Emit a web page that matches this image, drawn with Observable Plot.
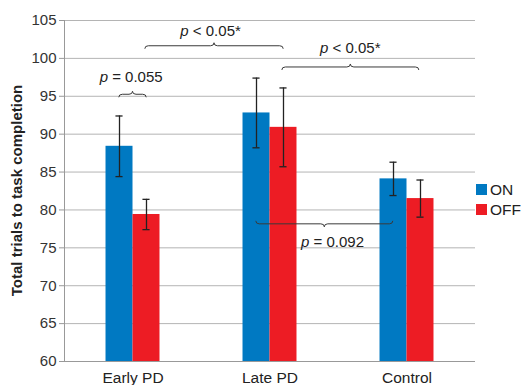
<!DOCTYPE html>
<html>
<head>
<meta charset="utf-8">
<script src="https://cdn.jsdelivr.net/npm/d3@7"></script>
<script src="https://cdn.jsdelivr.net/npm/@observablehq/plot@0.6"></script>
<style>
  html, body { margin: 0; padding: 0; background: #fff; }
  #chart svg { display: block; }
</style>
</head>
<body>
<div id="chart"></div>
<script>
const categories = ["Early PD", "Late PD", "Control"];
const seriesNames = ["ON", "OFF"];
const seriesColors = ["#0079C2", "#ED1C24"];
const onValues = [88.4, 92.8, 84.1];
const onErrors = [4.0, 4.6, 2.2];
const offValues = [79.4, 90.9, 81.5];
const offErrors = [2.0, 5.2, 2.45];
const yTicks = [60, 65, 70, 75, 80, 85, 90, 95, 100, 105];

// significance braces (x in category-index units, y in data units)
const braceFrom = [-0.1, 0.09, 1.09, 0.9];
const braceTo = [0.1, 1.1, 2.09, 1.9];
const braceLevel = [95.2, 101.6, 98.8, 78.1];
const braceTip = ["up", "up", "up", "down"];
const braceText = ["= 0.055", "< 0.05*", "< 0.05*", "= 0.092"];
const labelX = [-0.01, 0.57, 1.59, 1.46];
const labelY = [96.8, 102.9, 100.6, 75.0];

const half = 0.197;
const bars = [];
categories.forEach((c, i) => {
  bars.push({cat: c, series: "ON", x1: i - half, x2: i, value: onValues[i], err: onErrors[i]});
  bars.push({cat: c, series: "OFF", x1: i, x2: i + half, value: offValues[i], err: offErrors[i]});
});
bars.forEach(d => { d.xc = (d.x1 + d.x2) / 2; });

const braces = braceFrom.map((f, i) => ({from: f, to: braceTo[i], level: braceLevel[i], tip: braceTip[i], text: braceText[i], lx: labelX[i], ly: labelY[i]}));

const font = "'Liberation Sans', Arial, Helvetica, sans-serif";

function annotations(index, scales, values, dims) {
  const svg = d3.create("svg:g");
  const {x, y} = scales;
  const r = 3.5;
  for (const b of braces) {
    const x1 = x(b.from), x2 = x(b.to), py = y(b.level), xm = (x1 + x2) / 2;
    const s = b.tip === "up" ? 1 : -1; // ends go +s, tip goes -s
    const e = 3;
    const d = `M${x1},${py + s * e} Q${x1},${py} ${x1 + r},${py} L${xm - r},${py} Q${xm},${py} ${xm},${py - s * e} Q${xm},${py} ${xm + r},${py} L${x2 - r},${py} Q${x2},${py} ${x2},${py + s * e}`;
    svg.append("path").attr("d", d).attr("fill", "none").attr("stroke", "#3a3a3a").attr("stroke-width", 1);
    const t = svg.append("text")
      .attr("x", x(b.lx)).attr("y", y(b.ly))
      .attr("text-anchor", "middle")
      .attr("font-family", font).attr("font-size", 15).attr("fill", "#222");
    t.append("tspan").attr("font-style", "italic").text("p");
    t.append("tspan").text(" " + b.text);
  }
  // y axis title
  const cy = (dims.marginTop + dims.height - dims.marginBottom) / 2;
  svg.append("text")
    .attr("transform", `translate(17,${cy}) rotate(-90)`)
    .attr("text-anchor", "middle").attr("dy", "0.35em")
    .attr("font-family", font).attr("font-size", 15).attr("font-weight", "bold").attr("fill", "#222")
    .text("Total trials to task completion");
  // legend
  const lx = dims.width - dims.marginRight + 1;
  seriesNames.forEach((n, i) => {
    const ly = 184 + i * 20;
    svg.append("rect").attr("x", lx).attr("y", ly).attr("width", 11).attr("height", 11).attr("fill", seriesColors[i]);
    svg.append("text").attr("x", lx + 14).attr("y", ly + 5.5).attr("dy", "0.35em")
      .attr("text-anchor", "start")
      .attr("font-family", font).attr("font-size", 15.5).attr("fill", "#222").text(n);
  });
  return svg.node();
}

const chart = Plot.plot({
  width: 522,
  height: 385,
  marginLeft: 64,
  marginRight: 47,
  marginTop: 20,
  marginBottom: 24,
  style: {fontFamily: font, fontSize: "15px", color: "#333", background: "#fff"},
  x: {domain: [-0.5, 2.5], axis: null},
  y: {domain: [60, 105], axis: null},
  color: {domain: seriesNames, range: seriesColors},
  marks: [
    Plot.ruleY(yTicks, {stroke: "#b4b4b4", strokeWidth: 1}),
    Plot.axisY({ticks: yTicks, tickSize: 5, tickPadding: 3, stroke: "#999", fill: "#333", fontSize: 15, label: null}),
    Plot.axisX({ticks: [0, 1, 2], tickFormat: i => categories[i], tickSize: 0, tickPadding: 10, fill: "#222", fontSize: 15.5, label: null}),
    Plot.rectY(bars, {x1: "x1", x2: "x2", y1: 60, y2: "value", fill: "series"}),
    Plot.ruleX([-0.5], {stroke: "#999", strokeWidth: 1}),
    Plot.ruleY([60], {stroke: "#999", strokeWidth: 1}),
    Plot.ruleX(bars, {x: "xc", y1: d => d.value - d.err, y2: d => d.value + d.err, stroke: "#222", strokeWidth: 1.3}),
    Plot.ruleY(bars, {y: d => d.value + d.err, x1: d => d.xc - 0.026, x2: d => d.xc + 0.026, stroke: "#222", strokeWidth: 1.3}),
    Plot.ruleY(bars, {y: d => d.value - d.err, x1: d => d.xc - 0.026, x2: d => d.xc + 0.026, stroke: "#222", strokeWidth: 1.3}),
    annotations
  ]
});
document.getElementById("chart").appendChild(chart);
</script>
</body>
</html>
